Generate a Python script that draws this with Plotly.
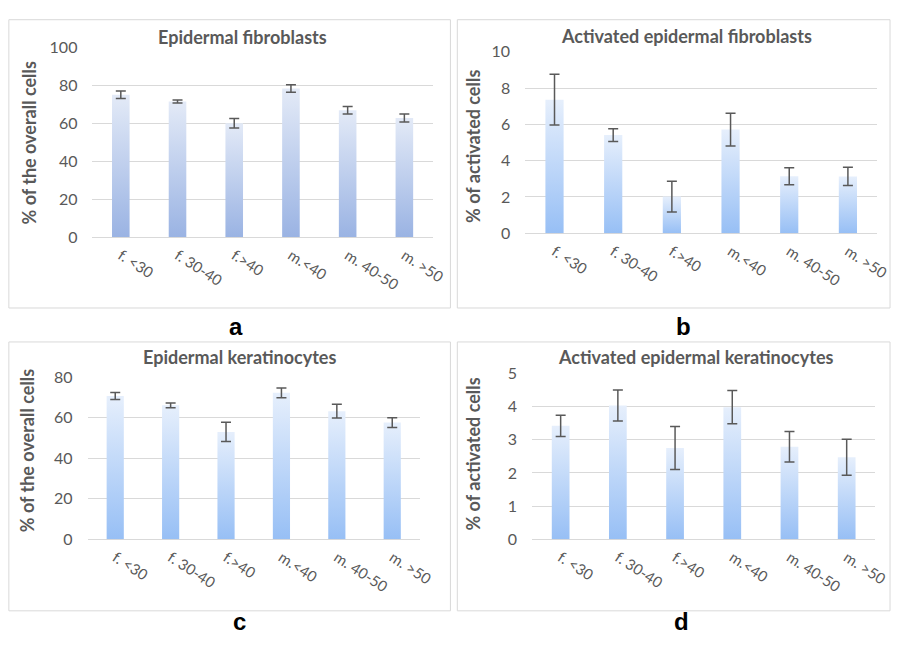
import plotly.graph_objects as go

categories = ["f. <30", "f. 30-40", "f.>40", "m.<40", "m. 40-50", "m. >50"]

fib_vals = [75.2, 71.6, 60.2, 78.5, 67.0, 62.9]
fib_err = [2.0, 0.8, 2.5, 2.0, 2.0, 2.1]

act_fib_vals = [7.36, 5.41, 2.02, 5.71, 3.14, 3.13]
act_fib_err = [1.4, 0.35, 0.85, 0.9, 0.47, 0.5]

ker_vals = [70.7, 66.1, 53.0, 72.3, 63.2, 57.6]
ker_err = [1.7, 1.2, 4.7, 2.4, 3.4, 2.4]

act_ker_vals = [3.42, 4.03, 2.75, 3.98, 2.79, 2.47]
act_ker_err = [0.32, 0.47, 0.65, 0.5, 0.46, 0.54]

titles = ["Epidermal fibroblasts", "Activated epidermal fibroblasts",
          "Epidermal keratinocytes", "Activated epidermal keratinocytes"]
ytitles = ["% of the overall cells", "% of activated cells",
           "% of the overall cells", "% of activated cells"]
panel_letters = ["a", "b", "c", "d"]
yranges = [100, 10, 80, 5]
ydticks = [20, 2, 20, 1]

W, H = 907, 647
FONT = "Lato"
GRAY = "#595959"

def px_x(x):
    return x / W

def px_y(y):
    return 1 - y / H

# plot-area pixel boxes (left, right, top, bottom)
plot_boxes = [(94, 440, 39, 234), (534, 892, 43, 230),
              (89, 427, 378.3, 545.3), (541, 890, 374.3, 545.3)]
panel_boxes = [(9, 458, 10, 307), (465, 905, 10, 307),
               (9, 458, 342, 619), (465, 905, 342, 619)]
title_pos = [(247, 28), (698, 27), (244, 358), (707, 358)]
ytitle_pos = [(29, 137), (481, 141), (27, 454), (481, 458)]
letter_pos = [(240, 326), (695, 326), (244, 630), (693, 630)]
colors = [("#9ab3e3", "#e3eaf7"), ("#97bff5", "#e6effc"),
          ("#97bff5", "#e6effc"), ("#97bff5", "#e6effc")]

data = [(fib_vals, fib_err), (act_fib_vals, act_fib_err),
        (ker_vals, ker_err), (act_ker_vals, act_ker_err)]

fig = go.Figure()
half = 0.155
layout = dict(width=W, height=H, margin=dict(l=0, r=0, t=0, b=0),
              paper_bgcolor="white", plot_bgcolor="white", showlegend=False)
annotations = []
shapes = []
for k in range(4):
    vals, errs = data[k]
    xa = "x" if k == 0 else f"x{k+1}"
    ya = "y" if k == 0 else f"y{k+1}"
    bot, top = colors[k]
    for i, v in enumerate(vals):
        fig.add_trace(go.Scatter(
            x=[i - half, i - half, i + half, i + half, i - half],
            y=[0, v, v, 0, 0], fill="toself", mode="lines",
            line=dict(width=0, color="rgba(0,0,0,0)"),
            fillgradient=dict(type="vertical",
                              colorscale=[[0, bot], [1, top]]),
            xaxis=xa, yaxis=ya, hoverinfo="skip"))
    fig.add_trace(go.Scatter(
        x=list(range(len(categories))), y=vals, mode="markers",
        marker=dict(size=1, color="rgba(0,0,0,0)"),
        error_y=dict(type="data", array=errs, color=GRAY, thickness=1.5, width=5),
        xaxis=xa, yaxis=ya))
    l, r, t, b = plot_boxes[k]
    xkey = "xaxis" if k == 0 else f"xaxis{k+1}"
    ykey = "yaxis" if k == 0 else f"yaxis{k+1}"
    layout[xkey] = dict(domain=[px_x(l), px_x(r)], range=[-0.5, 5.5],
                        anchor=ya, tickmode="array",
                        tickvals=list(range(len(categories))), ticktext=categories,
                        tickangle=33, showgrid=False, zeroline=False,
                        showline=False, ticks="",
                        ticklabelstandoff=6,
                        tickfont=dict(family=FONT, size=15, color=GRAY))
    layout[ykey] = dict(domain=[px_y(b), px_y(t)], range=[0, yranges[k]],
                        anchor=xa, dtick=ydticks[k], tick0=0,
                        showgrid=True, gridcolor="#d9d9d9", gridwidth=1,
                        zeroline=True, zerolinecolor="#d9d9d9", zerolinewidth=1,
                        showline=False, ticks="", ticklabelstandoff=14,
                        tickfont=dict(family=FONT, size=16, color=GRAY))
    pl, pr, pt, pb = panel_boxes[k]
    shapes.append(dict(type="rect", xref="paper", yref="paper",
                       x0=px_x(pl), x1=px_x(pr), y0=px_y(pb), y1=px_y(pt),
                       line=dict(color="#d9d9d9", width=1), layer="below"))
    tx, ty = title_pos[k]
    annotations.append(dict(text=f"<b>{titles[k]}</b>", x=px_x(tx), y=px_y(ty),
                            xref="paper", yref="paper", showarrow=False,
                            xanchor="center", yanchor="middle",
                            font=dict(family=FONT, size=18, color=GRAY)))
    yx, yy = ytitle_pos[k]
    annotations.append(dict(text=f"<b>{ytitles[k]}</b>", x=px_x(yx), y=px_y(yy),
                            xref="paper", yref="paper", showarrow=False,
                            textangle=-90, xanchor="center", yanchor="middle",
                            font=dict(family=FONT, size=18, color=GRAY)))
    lx, ly = letter_pos[k]
    annotations.append(dict(text=f"<b>{panel_letters[k]}</b>", x=px_x(lx), y=px_y(ly),
                            xref="paper", yref="paper", showarrow=False,
                            xanchor="center", yanchor="middle",
                            font=dict(family="Liberation Sans", size=24, color="black")))

layout["annotations"] = annotations
layout["shapes"] = shapes
fig.update_layout(**layout)
fig.write_html("out.html",
               post_script="document.body.style.margin='0px';document.body.style.overflow='hidden';")
